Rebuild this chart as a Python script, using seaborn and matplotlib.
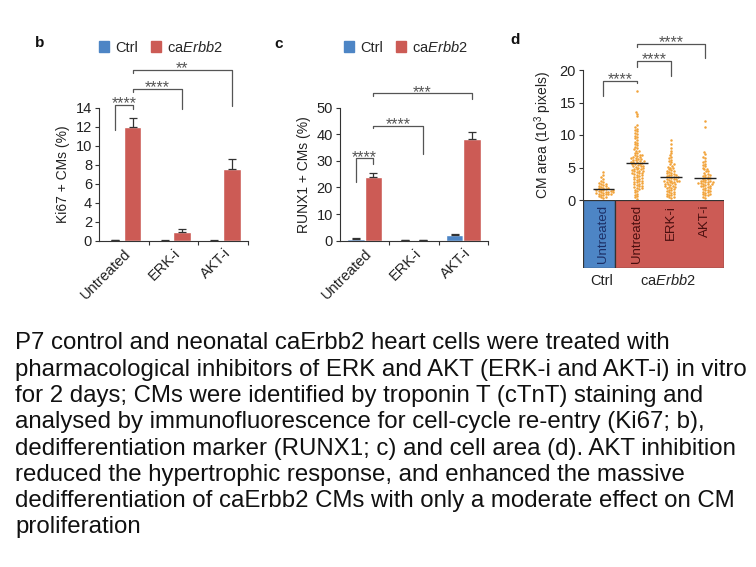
import numpy as np
import pandas as pd
import seaborn as sns
import matplotlib.pyplot as plt
from matplotlib.patches import Patch, Rectangle

# ---- data ----
treatments = ['Untreated', 'ERK-i', 'AKT-i']
genotypes = ['Ctrl', 'caErbb2']

ki67_ctrl = [0.05, 0.02, 0.02]
ki67_ctrl_err = [0.05, 0.02, 0.02]
ki67_ca = [12.0, 0.9, 7.5]
ki67_ca_err = [0.9, 0.3, 1.1]

runx1_ctrl = [0.5, 0.1, 2.3]
runx1_ctrl_err = [0.7, 0.1, 0.3]
runx1_ca = [23.8, 0.2, 38.2]
runx1_ca_err = [1.7, 0.1, 2.6]

area_groups = ['Ctrl Untreated', 'ca Untreated', 'ca ERK-i', 'ca AKT-i']
area_ctrl_untreated = [4.3, 3.8, 3.5, 3.3, 3.0, 2.8, 2.6, 2.5, 2.4, 2.3, 2.2, 2.1,
                       2.0, 1.9, 1.8, 1.8, 1.7, 1.6, 1.6, 1.5, 1.5,
                       1.4, 1.4, 1.3, 1.3, 1.2, 1.2, 1.1, 1.1,
                       1.0, 1.0, 0.9, 0.9, 0.8, 0.7, 0.6,
                       0.5, 0.4, 0.3]
area_ca_untreated = [16.8, 13.6, 13.3, 12.9, 11.5, 11.2, 11.0, 10.8, 10.6,
                     10.3, 10.1, 9.9, 9.7, 9.5, 9.3, 9.0, 8.8, 8.6, 8.4, 8.2, 8.0, 7.8,
                     7.6, 7.5, 7.3, 7.2, 7.0, 6.9, 6.8, 6.6, 6.5, 6.4, 6.3,
                     6.2, 6.1, 6.0, 5.9, 5.8, 5.7, 5.6, 5.5, 5.4, 5.3, 5.2, 5.1,
                     5.0, 4.9, 4.8, 4.7, 4.6, 4.5, 4.4, 4.3, 4.2, 4.1, 4.0, 3.9,
                     3.8, 3.7, 3.6, 3.5, 3.4, 3.3, 3.2, 3.1, 3.0, 2.9, 2.8, 2.7,
                     2.6, 2.5, 2.4, 2.3, 2.2, 2.1, 2.0, 1.9, 1.8, 1.7,
                     1.6, 1.4, 1.2, 1.0, 0.8, 0.6, 0.4, 0.2,
                     5.5, 5.8, 6.0, 5.2, 6.3, 4.8, 6.6, 4.5, 7.0, 4.2]
area_ca_erk = [9.3, 8.6, 8.0, 7.6, 7.2, 6.9, 6.6, 6.4, 6.2, 6.0,
               5.8, 5.6, 5.5, 5.3, 5.1, 5.0, 4.9, 4.7, 4.6, 4.5,
               4.4, 4.3, 4.2, 4.1, 4.0, 3.9, 3.8, 3.8, 3.7, 3.6, 3.5, 3.5,
               3.4, 3.3, 3.3, 3.2, 3.1, 3.0, 3.0, 2.9, 2.8, 2.8, 2.7, 2.6,
               2.5, 2.4, 2.3, 2.2, 2.1, 2.0, 1.9, 1.8, 1.7, 1.6,
               1.5, 1.4, 1.2, 1.0, 0.8, 0.6, 0.4, 0.3,
               1.3, 1.1, 0.9, 0.7, 0.5, 2.0, 2.4, 2.9]
area_ca_akt = [12.2, 11.3, 7.4, 7.1, 6.6, 6.4, 6.0, 5.8, 5.6,
               5.4, 5.2, 5.0, 4.8, 4.7, 4.5, 4.4, 4.2,
               4.0, 3.9, 3.8, 3.7, 3.6, 3.5, 3.4, 3.3, 3.2, 3.1,
               3.0, 2.9, 2.8, 2.8, 2.7, 2.6, 2.5, 2.5, 2.4, 2.3, 2.2, 2.1,
               2.0, 1.9, 1.8, 1.7, 1.6, 1.5, 1.4, 1.3, 1.1, 0.9, 0.7, 0.5, 0.3,
               1.0, 1.2, 0.8, 2.6, 2.2, 3.0]

caption = [
    'P7 control and neonatal caErbb2 heart cells were treated with',
    'pharmacological inhibitors of ERK and AKT (ERK-i and AKT-i) in vitro',
    'for 2 days; CMs were identified by troponin T (cTnT) staining and',
    'analysed by immunofluorescence for cell-cycle re-entry (Ki67; b),',
    'dedifferentiation marker (RUNX1; c) and cell area (d). AKT inhibition',
    'reduced the hypertrophic response, and enhanced the massive',
    'dedifferentiation of caErbb2 CMs with only a moderate effect on CM',
    'proliferation',
]

# ---- style ----
sns.set_theme(style='ticks')
plt.rcParams['font.family'] = ['Liberation Sans', 'DejaVu Sans']
plt.rcParams['mathtext.fontset'] = 'custom'
plt.rcParams['mathtext.rm'] = 'Liberation Sans'
plt.rcParams['mathtext.it'] = 'Liberation Sans:italic'

BLUE = '#4d85c5'
RED = '#cc5b55'
ORANGE = '#f2a33a'
GRAY = '#555555'
W, H = 756, 567

fig = plt.figure(figsize=(7.56, 5.67), dpi=100)


def px_axes(x0, y0, x1, y1):
    return fig.add_axes([x0 / W, 1 - y1 / H, (x1 - x0) / W, (y1 - y0) / H])


def bracket(ax, x1, x2, y, y1, y2, text):
    ax.plot([x1, x1, x2, x2], [y1, y, y, y2], color=GRAY, lw=0.9, clip_on=False)
    ax.annotate(text, (0.5 * (x1 + x2), y), xytext=(0, -2.5), textcoords='offset points',
                ha='center', va='baseline', fontsize=11.5, color=GRAY, annotation_clip=False)


def style_axes(ax):
    sns.despine(ax=ax)
    for s in ['left', 'bottom']:
        ax.spines[s].set_color('#333333')
        ax.spines[s].set_linewidth(0.8)
    ax.tick_params(axis='y', labelsize=10.5, length=3, width=0.8, color='#333333',
                   labelcolor='#222222', pad=2)


def bar_panel(ax, ctrl, ctrl_err, ca, ca_err, ylabel, ymax, ystep):
    df = pd.DataFrame({
        'treatment': treatments * 2,
        'genotype': ['Ctrl'] * 3 + ['caErbb2'] * 3,
        'value': ctrl + ca,
    })
    sns.barplot(data=df, x='treatment', y='value', hue='genotype', hue_order=genotypes,
                palette=[BLUE, RED], width=0.7, errorbar=None, legend=False, ax=ax,
                saturation=1)
    bars = [list(cont) for cont in ax.containers]
    centers = [[b.get_x() + b.get_width() / 2 for b in cont] for cont in bars]
    for cont, xs, err in zip(bars, centers, [ctrl_err, ca_err]):
        hs = [b.get_height() for b in cont]
        ax.errorbar(xs, hs, yerr=[np.zeros(3), err], fmt='none', ecolor='#333333',
                    elinewidth=0.9, capsize=3, capthick=0.9)
    ax.set_xlim(-0.5, 2.5)
    ax.set_ylim(0, ymax)
    ax.set_yticks(np.arange(0, ymax + 0.1, ystep))
    ax.set_xlabel('')
    ax.set_ylabel(ylabel, fontsize=10, color='#222222', labelpad=4)
    style_axes(ax)
    ax.set_xticks([0.5, 1.5, 2.5], minor=True)
    ax.tick_params(axis='x', which='major', length=0, labelsize=10.5, labelcolor='#222222', pad=4)
    ax.tick_params(axis='x', which='minor', length=3, width=0.8, color='#333333')
    plt.setp(ax.get_xticklabels(), rotation=45, ha='right', rotation_mode='anchor')
    return centers


# ---- panel b ----
ax_b = px_axes(99, 107.7, 248, 240.7)
pos = bar_panel(ax_b, ki67_ctrl, ki67_ctrl_err, ki67_ca, ki67_ca_err,
                'Ki67 + CMs (%)', 14, 2)
bracket(ax_b, pos[0][0], pos[1][0], 14.3, 11.6, 13.9, '****')
bracket(ax_b, pos[1][0], pos[1][1], 16.0, 15.7, 13.9, '****')
bracket(ax_b, pos[1][0], pos[1][2], 18.0, 17.7, 14.2, '**')

# ---- panel c ----
ax_c = px_axes(340, 107.7, 488, 240.7)
pos = bar_panel(ax_c, runx1_ctrl, runx1_ctrl_err, runx1_ca, runx1_ca_err,
                'RUNX1 + CMs (%)', 50, 10)
bracket(ax_c, pos[0][0], pos[1][0], 31.0, 22.2, 28.8, '****')
bracket(ax_c, pos[1][0], pos[1][1], 43.1, 42.3, 32.6, '****')
bracket(ax_c, pos[1][0], pos[1][2], 55.4, 54.5, 53.2, '***')

# legends
handles = [Patch(color=BLUE, label='Ctrl'), Patch(color=RED, label='ca$\\it{Erbb2}$')]
for cx in [161, 406]:
    fig.legend(handles=handles, loc='center', bbox_to_anchor=(cx / W, 1 - 47 / H), ncol=2,
               frameon=False, fontsize=10.5, handlelength=0.7, handleheight=0.7,
               handletextpad=0.4, columnspacing=0.9, borderaxespad=0)

# ---- panel d ----
ax_d = px_axes(583, 70, 724, 200)
area = pd.DataFrame({
    'group': (['Ctrl Untreated'] * len(area_ctrl_untreated) + ['ca Untreated'] * len(area_ca_untreated)
              + ['ca ERK-i'] * len(area_ca_erk) + ['ca AKT-i'] * len(area_ca_akt)),
    'area': area_ctrl_untreated + area_ca_untreated + area_ca_erk + area_ca_akt,
})
sns.swarmplot(data=area, x='group', y='area', order=area_groups, color=ORANGE, size=1.8,
              linewidth=0, ax=ax_d, warn_thresh=1)
means = area.groupby('group')['area'].mean().reindex(area_groups)
ax_d.hlines(means.values, np.arange(4) - 0.32, np.arange(4) + 0.32, color='#222222', lw=1.0, zorder=5)
ax_d.set_xlim(-0.6, 3.55)
ax_d.set_ylim(0, 20)
ax_d.set_yticks([0, 5, 10, 15, 20])
ax_d.set_xticks([])
ax_d.set_xlabel('')
ax_d.set_ylabel('CM area (10$^3$ pixels)', fontsize=10, color='#222222', labelpad=4)
style_axes(ax_d)
ax_d.spines['bottom'].set_visible(False)
bracket(ax_d, 0, 1, 18.3, 16.0, 18.0, '****')
bracket(ax_d, 1, 2, 21.4, 20.5, 19.1, '****')
bracket(ax_d, 1, 3, 24.0, 23.6, 21.8, '****')

# table under panel d
ax_t = px_axes(583, 200, 724, 268)
ax_t.set_xlim(-0.6, 3.55)
ax_t.set_ylim(0, 1)
ax_t.axis('off')
ax_t.add_patch(Rectangle((-0.6, 0), 0.94, 1, fc=BLUE, ec='#333333', lw=0.9))
ax_t.add_patch(Rectangle((0.34, 0), 3.21, 1, fc=RED, ec='#333333', lw=0.9))
cell_labels = ['Untreated', 'Untreated', 'ERK-i', 'AKT-i']
cell_colors = ['#1c2f66', '#4a0f0f', '#4a0f0f', '#4a0f0f']
for i, (lab, col) in enumerate(zip(cell_labels, cell_colors)):
    ax_t.text(i, 0.93, lab, rotation=90, ha='center', va='top', fontsize=9.5, color=col)
fig.text(602 / W, 1 - 281 / H, 'Ctrl', ha='center', va='center', fontsize=10.5, color='#222222')
fig.text(668 / W, 1 - 281 / H, 'ca$\\it{Erbb2}$', ha='center', va='center', fontsize=10.5, color='#222222')

# panel letters
for lab, x, y in [('b', 40, 43), ('c', 279, 44), ('d', 515, 40)]:
    fig.text(x / W, 1 - y / H, lab, ha='center', va='center', fontsize=11, weight='bold', color='#111111')

# caption
baselines = [349.3, 375.6, 401.9, 428.2, 454.5, 480.8, 507.1, 533.4]
for line, yb in zip(caption, baselines):
    fig.text(15 / W, 1 - yb / H, line, ha='left', va='baseline', fontsize=17.3, color='#111111')

fig.savefig('out.png', dpi=100)
